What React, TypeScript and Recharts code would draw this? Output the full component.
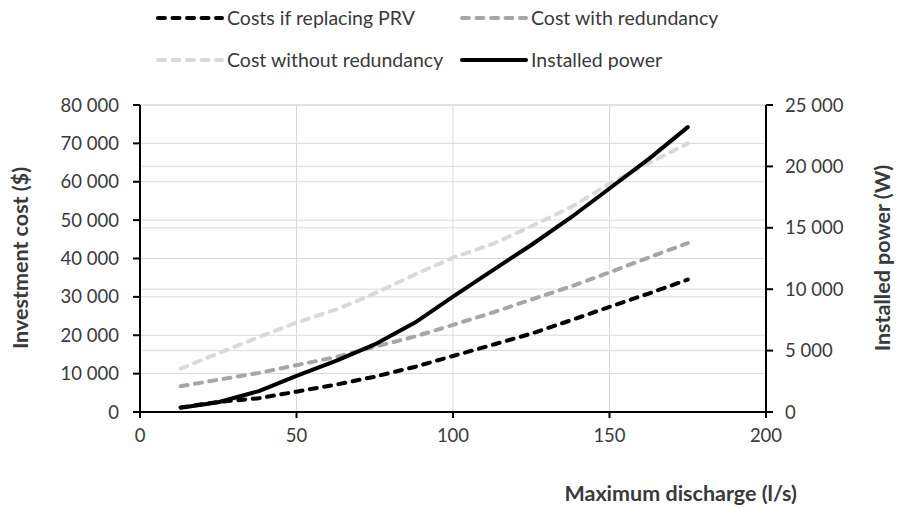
import React from 'react';
import { LineChart, Line, XAxis, YAxis, CartesianGrid, Legend, Label } from 'recharts';

const discharge = [13, 25, 38, 50, 63, 75, 88, 100, 113, 125, 138, 150, 163, 175];
const costsReplacingPRV = [1200, 2600, 3600, 5300, 7200, 9200, 11800, 14600, 17600, 20400, 24000, 27400, 31000, 34500];
const costWithRedundancy = [6700, 8400, 10200, 12200, 14400, 17000, 19700, 22700, 26000, 29300, 32800, 36400, 40400, 44000];
const costWithoutRedundancy = [11300, 15300, 19500, 23300, 26800, 30900, 35900, 40200, 43900, 48400, 53500, 59500, 65000, 70000];
const installedPower = [350, 800, 1700, 2950, 4200, 5500, 7300, 9400, 11600, 13600, 15900, 18200, 20700, 23200];

const xTicks = [0, 50, 100, 150, 200];
const leftTicks = [0, 10000, 20000, 30000, 40000, 50000, 60000, 70000, 80000];
const rightTicks = [0, 5000, 10000, 15000, 20000, 25000];

const seriesNames = {
  prv: 'Costs if replacing PRV',
  withRed: 'Cost with redundancy',
  withoutRed: 'Cost without redundancy',
  power: 'Installed power',
};

const data = discharge.map((q, i) => ({
  q,
  prv: costsReplacingPRV[i],
  withRed: costWithRedundancy[i],
  withoutRed: costWithoutRedundancy[i],
  power: installedPower[i],
}));

const SERIES = [
  { key: 'prv', color: '#000000', dash: '7 7.5', axis: 'left' },
  { key: 'withRed', color: '#a6a6a6', dash: '7 7.5', axis: 'left' },
  { key: 'withoutRed', color: '#d9d9d9', dash: '7 7.5', axis: 'left' },
  { key: 'power', color: '#000000', dash: undefined, axis: 'right' },
];

const fmt = (v: number) => {
  const s = String(Math.round(v));
  return s.replace(/\B(?=(\d{3})+(?!\d))/g, ' ');
};

const TEXT = '#3a3a3a';
const FONT = 'Lato, "Open Sans", sans-serif';
const TICK_SIZE = 18.5;
const TITLE_SIZE = 21.5;

const LegendContent = () => {
  const order = ['prv', 'withRed', 'withoutRed', 'power'];
  const colX = [156, 460];
  const rowY = [18, 60];
  return (
    <svg width={908} height={80} style={{ display: 'block' }}>
      {order.map((k, i) => {
        const s = SERIES.find((d) => d.key === k)!;
        const cx = colX[i % 2];
        const cy = rowY[Math.floor(i / 2)];
        return (
          <g key={k}>
            <line
              x1={cx + 2}
              y1={cy}
              x2={cx + 66}
              y2={cy}
              stroke={s.color}
              strokeWidth={4}
              strokeDasharray={s.dash}
              strokeLinecap="round"
            />
            <text x={cx + 71} y={cy} dy="0.35em" fill={TEXT} fontSize={19.5} fontFamily={FONT}>
              {(seriesNames as any)[k]}
            </text>
          </g>
        );
      })}
    </svg>
  );
};

export default function App() {
  return (
    <div style={{ position: 'absolute', left: 0, top: 0, width: 908, height: 508, background: '#fff', fontFamily: FONT }}>
      <LineChart width={908} height={508} data={data} margin={{ top: 105, right: 0, bottom: 0, left: 0 }}>
        <CartesianGrid yAxisId="left" xAxisId="x" stroke="#d9d9d9" strokeWidth={1} vertical={true} horizontal={true} />
        <CartesianGrid yAxisId="right" xAxisId="x" stroke="#d9d9d9" strokeWidth={1} vertical={false} horizontal={true} />
        <XAxis
          xAxisId="x"
          dataKey="q"
          type="number"
          domain={[0, 200]}
          ticks={xTicks}
          height={96}
          stroke="#000"
          axisLine={{ stroke: '#000', strokeWidth: 2 }}
          tickLine={{ stroke: '#000', strokeWidth: 2 }}
          tickSize={6}
          tickMargin={11}
          tick={{ fill: TEXT, fontSize: TICK_SIZE, fontFamily: FONT }}
        >
          <Label
            content={() => (
              <text x={797} y={493} dy="0.35em" textAnchor="end" fill={TEXT} fontWeight="bold" fontSize={TITLE_SIZE} fontFamily={FONT}>
                Maximum discharge (l/s)
              </text>
            )}
          />
        </XAxis>
        <YAxis
          yAxisId="left"
          orientation="left"
          domain={[0, 80000]}
          ticks={leftTicks}
          width={140}
          tickFormatter={fmt}
          axisLine={{ stroke: '#000', strokeWidth: 2 }}
          tickLine={{ stroke: '#000', strokeWidth: 2 }}
          tickSize={7}
          tickMargin={14}
          tick={{ fill: TEXT, fontSize: TICK_SIZE, fontFamily: FONT }}
        >
          <Label
            content={() => (
              <text
                x={20}
                y={258}
                dy="0.35em"
                textAnchor="middle"
                transform="rotate(-90 20 258)"
                fill={TEXT}
                fontWeight="bold"
                fontSize={TITLE_SIZE}
                fontFamily={FONT}
              >
                Investment cost ($)
              </text>
            )}
          />
        </YAxis>
        <YAxis
          yAxisId="right"
          orientation="right"
          domain={[0, 25000]}
          ticks={rightTicks}
          width={142}
          tickFormatter={fmt}
          axisLine={{ stroke: '#000', strokeWidth: 2 }}
          tickLine={{ stroke: '#000', strokeWidth: 2 }}
          tickSize={7}
          tickMargin={12}
          tick={{ fill: TEXT, fontSize: TICK_SIZE, fontFamily: FONT }}
        >
          <Label
            content={() => (
              <text
                x={882}
                y={258}
                dy="0.35em"
                textAnchor="middle"
                transform="rotate(-90 882 258)"
                fill={TEXT}
                fontWeight="bold"
                fontSize={TITLE_SIZE}
                fontFamily={FONT}
              >
                Installed power (W)
              </text>
            )}
          />
        </YAxis>
        <Legend
          layout="horizontal"
          verticalAlign="middle"
          align="center"
          wrapperStyle={{ top: 0, left: 0, width: 908, height: 80 }}
          content={() => <LegendContent />}
        />
        {SERIES.map((s) => (
          <Line
            key={s.key}
            xAxisId="x"
            yAxisId={s.axis}
            dataKey={s.key}
            name={(seriesNames as any)[s.key]}
            type="linear"
            stroke={s.color}
            strokeWidth={4}
            strokeDasharray={s.dash}
            strokeLinecap="round"
            dot={false}
            activeDot={false}
            isAnimationActive={false}
          />
        ))}
      </LineChart>
    </div>
  );
}
